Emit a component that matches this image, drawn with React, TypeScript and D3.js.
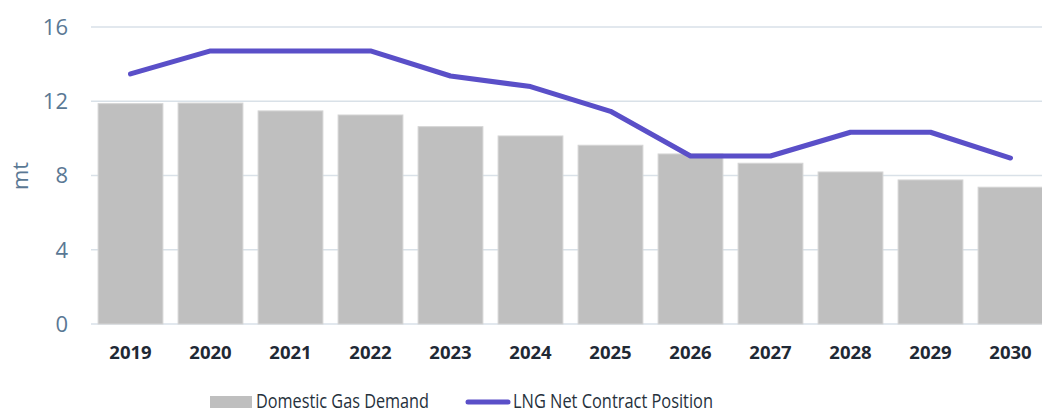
import React, { useEffect, useRef } from 'react';
import * as d3 from 'd3';

const years = ['2019', '2020', '2021', '2022', '2023', '2024', '2025', '2026', '2027', '2028', '2029', '2030'];
const demand = [11.87, 11.9, 11.48, 11.26, 10.63, 10.13, 9.63, 9.16, 8.66, 8.19, 7.76, 7.37];
const contract = [13.47, 14.71, 14.71, 14.71, 13.36, 12.79, 11.46, 9.05, 9.05, 10.33, 10.33, 8.94];
const yTicks = [0, 4, 8, 12, 16];

const W = 1042;
const H = 413;

const App = () => {
  const ref = useRef(null);

  useEffect(() => {
    const svg = d3.select(ref.current);
    svg.selectAll('*').remove();

    const x = d3.scaleBand().domain(years).range([90.5, 1050.5]).paddingInner(0.19).paddingOuter(0.095);
    const y = d3.scaleLinear().domain([0, 16]).range([324, 27]);

    // gridlines
    svg
      .append('g')
      .selectAll('line')
      .data(yTicks)
      .enter()
      .append('line')
      .attr('x1', 91)
      .attr('x2', W)
      .attr('y1', (d) => y(d))
      .attr('y2', (d) => y(d))
      .attr('stroke', '#d9e1e8')
      .attr('stroke-width', 1.5);

    // y tick labels
    svg
      .append('g')
      .selectAll('text')
      .data(yTicks)
      .enter()
      .append('text')
      .attr('x', 68)
      .attr('y', (d) => y(d))
      .attr('dy', '0.36em')
      .attr('text-anchor', 'end')
      .attr('fill', '#5a7894')
      .style('font-family', 'Open Sans')
      .style('font-size', '22px')
      .text((d) => d);

    svg
      .append('text')
      .attr('transform', 'translate(28,176) rotate(-90)')
      .attr('text-anchor', 'middle')
      .attr('fill', '#5a7894')
      .style('font-family', 'Open Sans')
      .style('font-size', '22px')
      .text('mt');

    // bars
    svg
      .append('g')
      .selectAll('rect')
      .data(demand)
      .enter()
      .append('rect')
      .attr('x', (d, i) => x(years[i]))
      .attr('y', (d) => y(d))
      .attr('width', x.bandwidth())
      .attr('height', (d) => y(0) - y(d))
      .attr('fill', '#bfbfbf')
      .attr('stroke', '#d4d4d4')
      .attr('stroke-width', 1);

    // line
    const line = d3
      .line()
      .x((d, i) => x(years[i]) + x.bandwidth() / 2)
      .y((d) => y(d));

    svg
      .append('path')
      .datum(contract)
      .attr('d', line)
      .attr('fill', 'none')
      .attr('stroke', '#5a4fc8')
      .attr('stroke-width', 5)
      .attr('stroke-linecap', 'round')
      .attr('stroke-linejoin', 'round');

    // x labels
    svg
      .append('g')
      .selectAll('text')
      .data(years)
      .enter()
      .append('text')
      .attr('x', (d) => x(d) + x.bandwidth() / 2)
      .attr('y', 359)
      .attr('text-anchor', 'middle')
      .attr('fill', '#1f2935')
      .style('font-family', 'Open Sans')
      .style('font-weight', 700)
      .style('font-size', '18.5px')
      .text((d) => d);

    // legend
    const lg = svg.append('g').style('font-family', 'Open Sans').style('font-size', '19.5px').attr('fill', '#26313c');
    lg.append('rect').attr('x', 210).attr('y', 396).attr('width', 42).attr('height', 12).attr('fill', '#bfbfbf');
    lg.append('text')
      .attr('x', 256)
      .attr('y', 408)
      .attr('textLength', 173)
      .attr('lengthAdjust', 'spacingAndGlyphs')
      .text('Domestic Gas Demand');
    lg.append('line')
      .attr('x1', 468)
      .attr('x2', 508)
      .attr('y1', 402)
      .attr('y2', 402)
      .attr('stroke', '#5a4fc8')
      .attr('stroke-width', 5)
      .attr('stroke-linecap', 'round');
    lg.append('text')
      .attr('x', 513)
      .attr('y', 408)
      .attr('textLength', 200)
      .attr('lengthAdjust', 'spacingAndGlyphs')
      .text('LNG Net Contract Position');
  }, []);

  return (
    <svg
      ref={ref}
      width={W}
      height={H}
      style={{ position: 'absolute', left: 0, top: 0, background: '#fff', overflow: 'hidden' }}
    />
  );
};

export default App;
